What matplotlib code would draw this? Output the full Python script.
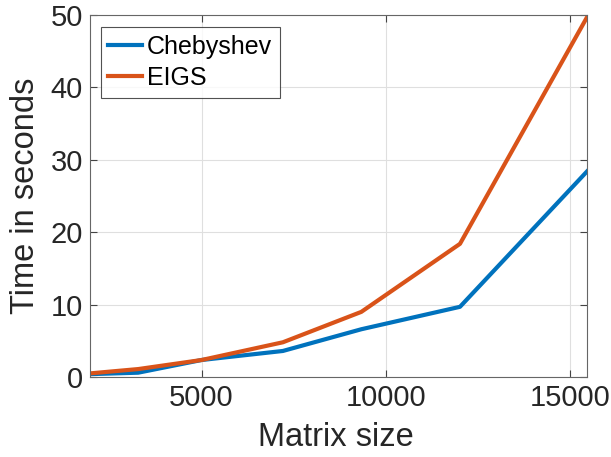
import matplotlib.pyplot as plt

plt.rcParams["font.family"] = ["Liberation Sans", "DejaVu Sans"]

matrix_size = [1970, 3280, 5000, 7210, 9340, 12020, 15470]
time_cheb = [0.4, 0.6, 2.35, 3.6, 6.6, 9.7, 28.4]
time_eigs = [0.5, 1.1, 2.35, 4.8, 9.0, 18.4, 49.7]

blue = "#0072BD"
orange = "#D95319"
axis_grey = "#262626"

fig = plt.figure(figsize=(6.11, 4.57), dpi=100)
ax = fig.add_axes([0.1473, 0.175, 0.8134, 0.792])

ax.plot(matrix_size, time_cheb, color=blue, lw=3, label="Chebyshev")
ax.plot(matrix_size, time_eigs, color=orange, lw=3, label="EIGS")

ax.set_xlim(min(matrix_size), max(matrix_size))
ax.set_ylim(0, 50)
ax.set_xticks([5000, 10000, 15000])
ax.set_yticks([0, 10, 20, 30, 40, 50])

ax.grid(True, color="#DFDFDF", lw=0.8)
ax.set_axisbelow(True)
for s in ax.spines.values():
    s.set_color("#666666")
    s.set_linewidth(0.8)
ax.tick_params(direction="in", length=5, width=0.8, color="#444444",
               labelsize=21, labelcolor=axis_grey, top=True, right=True, pad=5)

ax.set_xlabel("Matrix size", fontsize=23.5, color=axis_grey)
ax.set_ylabel("Time in seconds", fontsize=23.5, color=axis_grey)
# label centres placed where the reference has them (axes fractions)
ax.xaxis.set_label_coords((336 - 90) / 497, -(437 - 377) / 362)
ax.yaxis.set_label_coords(-(90 - 25) / 497, 0.5)
ax.xaxis.label.set_va("center")
ax.yaxis.label.set_va("center")

leg = ax.legend(loc="upper left", bbox_to_anchor=(0.022, 0.967), fontsize=18,
                frameon=True, fancybox=False, handlelength=1.35,
                handletextpad=0.2, borderpad=0.3, labelspacing=0.3,
                borderaxespad=0)
leg.get_frame().set_edgecolor("#262626")
leg.get_frame().set_linewidth(0.8)

fig.savefig("out.png", dpi=100, facecolor="white")
